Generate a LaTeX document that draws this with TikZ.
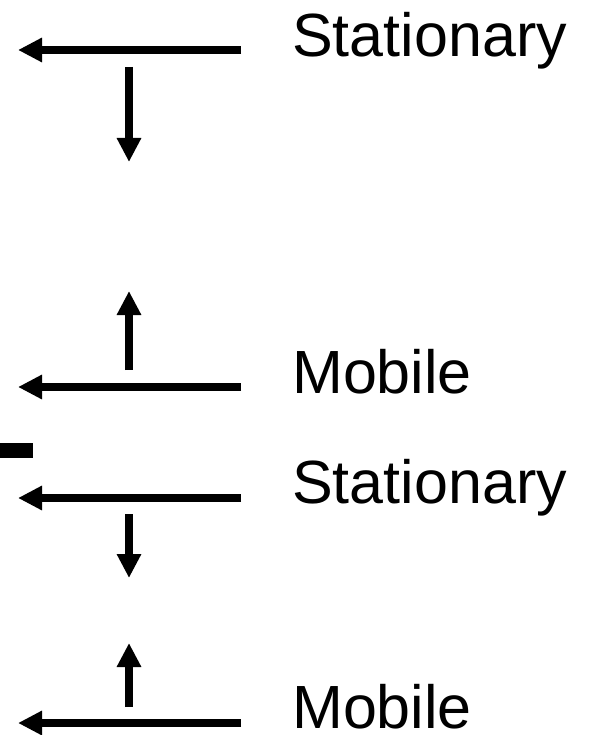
\documentclass[tikz,border=0pt]{standalone}
\usepackage{fontspec}
\setmainfont{Liberation Sans}
\usetikzlibrary{arrows.meta}
\begin{document}
\begin{tikzpicture}[x=1pt,y=-1pt,
  arr/.style={line width=7.5pt,-{Triangle[length=24pt,width=23pt]}},
  lbl/.style={anchor=base west,inner sep=0pt,font=\fontsize{61}{72}\selectfont}]
\useasboundingbox (0,0) rectangle (599,735);
% coordinates
\coordinate (h1s) at (241,50);  \coordinate (h1e) at (18,50);
\coordinate (v1s) at (129,67);  \coordinate (v1e) at (129,162);
\coordinate (v2s) at (129,370); \coordinate (v2e) at (129,291);
\coordinate (h2s) at (241,387); \coordinate (h2e) at (18,387);
\coordinate (h3s) at (241,498); \coordinate (h3e) at (18,498);
\coordinate (v3s) at (129,514); \coordinate (v3e) at (129,578);
\coordinate (v4s) at (129,707); \coordinate (v4e) at (129,643);
\coordinate (h4s) at (241,723); \coordinate (h4e) at (18,723);
% arrows
\draw[arr] (h1s) -- (h1e);
\draw[arr] (v1s) -- (v1e);
\draw[arr] (v2s) -- (v2e);
\draw[arr] (h2s) -- (h2e);
\draw[arr] (h3s) -- (h3e);
\draw[arr] (v3s) -- (v3e);
\draw[arr] (v4s) -- (v4e);
\draw[arr] (h4s) -- (h4e);
% small bar
\fill (0,443) rectangle (33,458);
% labels
\node[lbl] (t1) at (292,57) {Stationary};
\node[lbl] (t2) at (292,393) {Mobile};
\node[lbl] (t3) at (292,503) {Stationary};
\node[lbl] (t4) at (292,728) {Mobile};
\end{tikzpicture}
\end{document}
